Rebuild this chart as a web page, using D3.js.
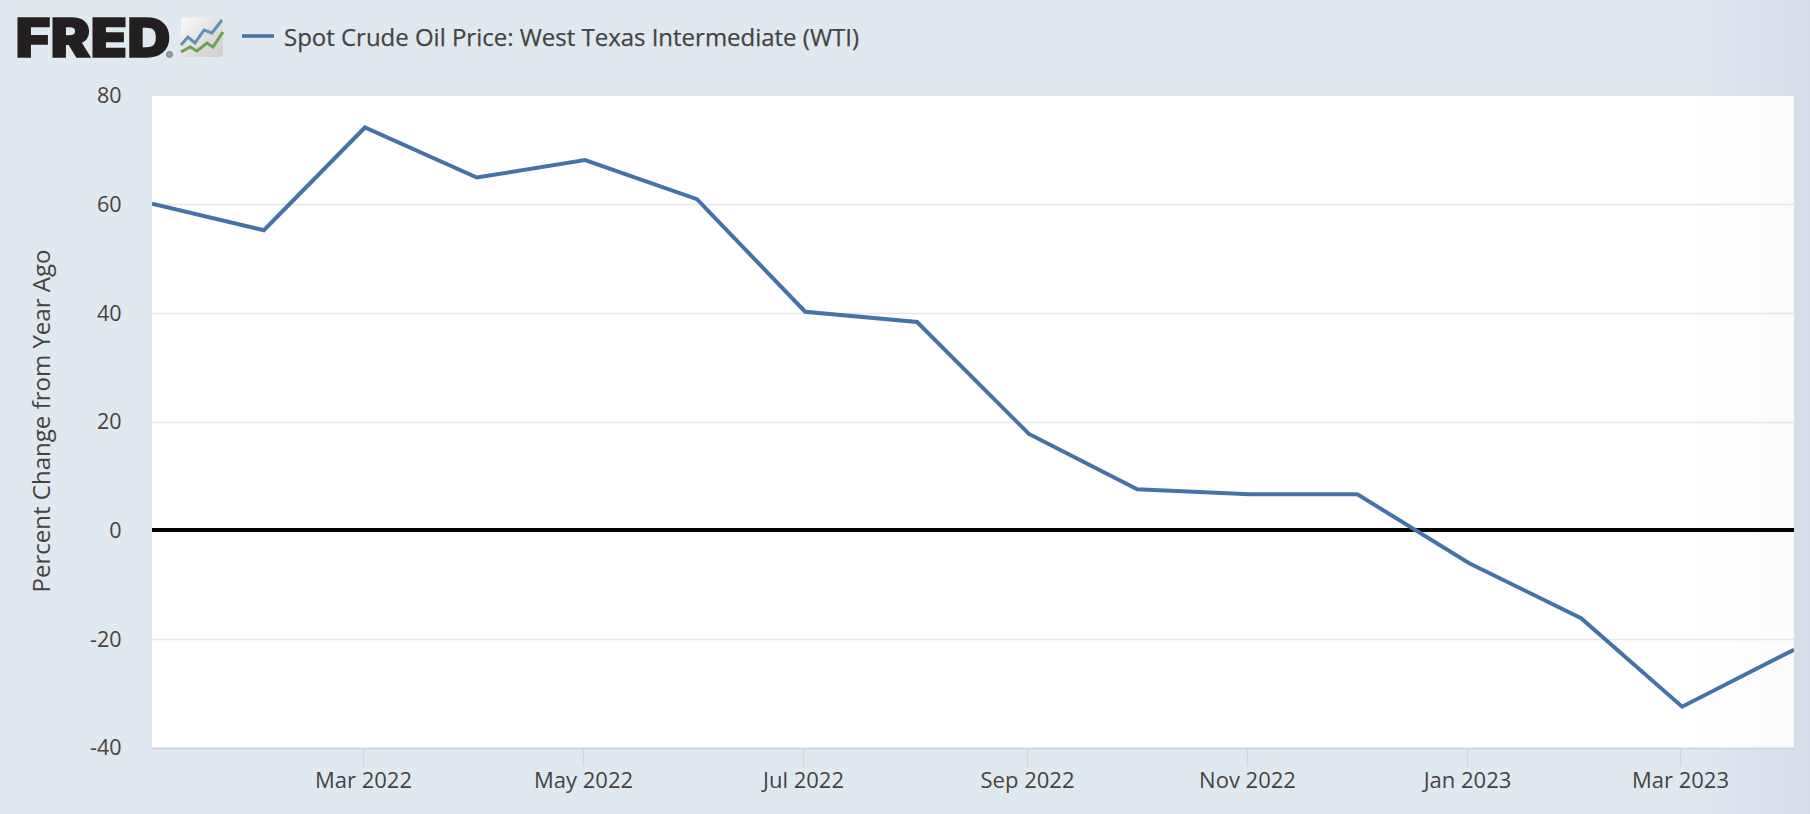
<!DOCTYPE html>
<html>
<head>
<meta charset="utf-8">
<script src="https://cdn.jsdelivr.net/npm/d3@7/dist/d3.min.js"></script>
<style>
html,body{margin:0;padding:0;background:#e1e9f0;overflow:hidden}
svg{display:block}
text{font-family:"Open Sans",sans-serif;fill:#444}
</style>
</head>
<body>
<svg id="chart" width="1810" height="814"></svg>
<script>
const months = ["2022-01-01","2022-02-01","2022-03-01","2022-04-01","2022-05-01","2022-06-01","2022-07-01","2022-08-01","2022-09-01","2022-10-01","2022-11-01","2022-12-01","2023-01-01","2023-02-01","2023-03-01","2023-04-01"];
const values = [60.2,55.3,74.2,65.0,68.2,61.0,40.3,38.4,17.8,7.6,6.7,6.7,-6.0,-16.1,-32.4,-21.9];
const yTicks = [-40,-20,0,20,40,60,80];
const xTickDates = ["2022-03-01","2022-05-01","2022-07-01","2022-09-01","2022-11-01","2023-01-01","2023-03-01"];
const seriesName = "Spot Crude Oil Price: West Texas Intermediate (WTI)";
const yTitle = "Percent Change from Year Ago";

const parse = d3.utcParse("%Y-%m-%d");
const fmt = d3.utcFormat("%b %Y");
const L = 152, R = 1794, T = 96, B = 748;
const x = d3.scaleUtc().domain([parse(months[0]), parse(months[months.length-1])]).range([L,R]);
const y = d3.scaleLinear().domain([-40,80]).range([B,T]);
const svg = d3.select("#chart");

const defs = svg.append("defs");
const vg = defs.append("linearGradient").attr("id","vig");
vg.append("stop").attr("offset","0").attr("stop-color","#8a9ab5").attr("stop-opacity",0);
vg.append("stop").attr("offset","1").attr("stop-color","#8a9ab5").attr("stop-opacity",0.14);
const pg = defs.append("linearGradient").attr("id","plotVig");
pg.append("stop").attr("offset","0").attr("stop-color","#000").attr("stop-opacity",0);
pg.append("stop").attr("offset","1").attr("stop-color","#000").attr("stop-opacity",0.015);
const ig = defs.append("linearGradient").attr("id","iconBg").attr("x1",0).attr("y1",0).attr("x2",1).attr("y2",1);
ig.append("stop").attr("offset","0").attr("stop-color","#fbfbfb");
ig.append("stop").attr("offset","0.6").attr("stop-color","#dcdcdc");
ig.append("stop").attr("offset","1").attr("stop-color","#cfcfcf");
const clip = defs.append("clipPath").attr("id","plotClip");
clip.append("rect").attr("x",L).attr("y",T-5).attr("width",R-L).attr("height",B-T+10);

svg.append("rect").attr("width",1810).attr("height",814).attr("fill","#e1e9f0");
svg.append("rect").attr("x",1680).attr("y",0).attr("width",130).attr("height",814).attr("fill","url(#vig)");
svg.append("rect").attr("x",L).attr("y",T).attr("width",R-L).attr("height",B-T).attr("fill","#fff");
svg.append("rect").attr("x",1680).attr("y",T).attr("width",R-1680).attr("height",B-T).attr("fill","url(#plotVig)");

// Gridlines
svg.append("g").selectAll("line").data(yTicks.filter(d=>d!==-40 && d!==80 && d!==0)).join("line")
  .attr("x1",L).attr("x2",R).attr("y1",d=>Math.floor(y(d))+0.5).attr("y2",d=>Math.floor(y(d))+0.5)
  .attr("stroke","#e6e6e6").attr("stroke-width",1.4);

// Y labels
const yAxis = d3.axisLeft(y).tickValues(yTicks).tickSize(0).tickPadding(0).tickFormat(d=>String(d));
const gy = svg.append("g").attr("transform",`translate(121.5,0)`).call(yAxis);
gy.select(".domain").remove();
gy.selectAll("text").attr("font-size",21.5).attr("fill","#444").attr("dy","0.32em")
  .style("font-family",'"Open Sans",sans-serif');

// X axis
const xAxis = d3.axisBottom(x).tickValues(xTickDates.map(parse)).tickSize(18).tickPadding(6).tickFormat(fmt);
const gx = svg.append("g").attr("transform",`translate(0,${B+0.5})`).call(xAxis);
gx.select(".domain").attr("d",`M${L},0H${R}`).attr("stroke","#ccd6eb").attr("stroke-width",1.8);
gx.selectAll(".tick").attr("transform",d=>`translate(${Math.round(x(d))-1.5},0)`);
gx.selectAll(".tick line").attr("stroke","#ccd6eb").attr("stroke-width",1.3);
gx.selectAll("text").attr("font-size",22).attr("fill","#444").style("font-family",'"Open Sans",sans-serif');

// Zero line
svg.append("line").attr("x1",L).attr("x2",R).attr("y1",530).attr("y2",530).attr("stroke","#000").attr("stroke-width",4);

// Series
const line = d3.line().x((d,i)=>x(parse(months[i]))).y(d=>y(d));
svg.append("path").datum(values).attr("d",line).attr("fill","none").attr("stroke","#4572a7")
  .attr("stroke-width",4).attr("stroke-linejoin","miter").attr("clip-path","url(#plotClip)");

// Axis title
svg.append("text").attr("transform","translate(42,421) rotate(-90)").attr("text-anchor","middle")
  .attr("dy","0.35em").attr("font-size",23).attr("textLength",343).attr("lengthAdjust","spacingAndGlyphs").text(yTitle);

// Legend
svg.append("line").attr("x1",242).attr("x2",274).attr("y1",36).attr("y2",36).attr("stroke","#4572a7").attr("stroke-width",3.6);
svg.append("text").attr("x",284).attr("y",45.5).attr("font-size",24).attr("font-weight",500)
  .attr("stroke","#444").attr("stroke-width",0.25)
  .attr("textLength",575).attr("lengthAdjust","spacingAndGlyphs").text(seriesName);

// Logo
svg.append("text").attr("x",15.5).attr("y",57).attr("font-size",54)
  .style("font-family",'Inter,sans-serif').style("font-weight",900).style("fill","#231f20")
  .attr("stroke","#231f20").attr("stroke-width",1.5)
  .attr("textLength",155).attr("lengthAdjust","spacingAndGlyphs").text("FRED");
svg.append("circle").attr("cx",169.5).attr("cy",54.5).attr("r",3).attr("fill","#9a9a9a").attr("stroke","#666").attr("stroke-width",0.7);
svg.append("rect").attr("x",181).attr("y",18).attr("width",42).attr("height",39).attr("rx",3).attr("fill","url(#iconBg)");
svg.append("path").attr("d","M181,45L188,37L195,43L204,30L212,33L222,20").attr("fill","none").attr("stroke","#5f93b5").attr("stroke-width",3);
svg.append("path").attr("d","M181,52L190,47L197,51L207,43L213,47L223,32").attr("fill","none").attr("stroke","#6ea24f").attr("stroke-width",3);
</script>
</body>
</html>
